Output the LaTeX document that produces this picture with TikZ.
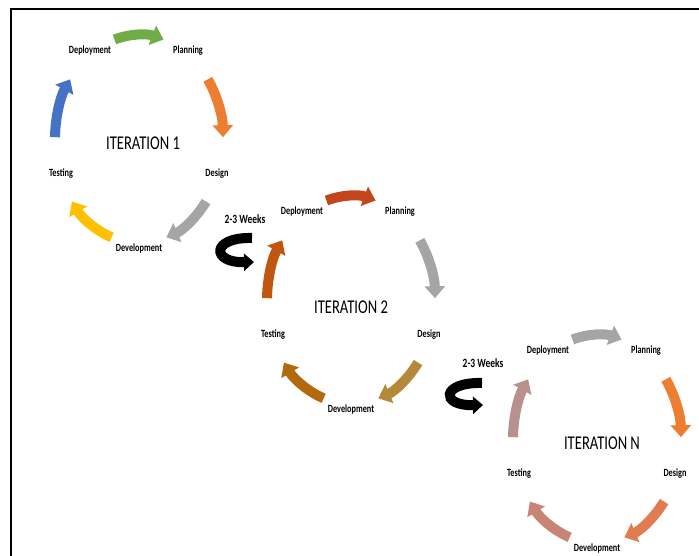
\documentclass[tikz,border=0pt]{standalone}
\usepackage{fontspec}
\setmainfont{Carlito}
\newfontfamily\tallfont[FakeStretch=0.75]{Carlito}
\usetikzlibrary{arrows.meta}
\definecolor{green1}{HTML}{70AD47}
\definecolor{orange1}{HTML}{ED7D31}
\definecolor{grey1}{HTML}{A5A5A5}
\definecolor{gold1}{HTML}{FFC000}
\definecolor{blue1}{HTML}{4472C4}
\definecolor{rust2}{HTML}{C4451C}
\definecolor{ochre2}{HTML}{B5893A}
\definecolor{brown2}{HTML}{B3690E}
\definecolor{burnt2}{HTML}{C0560F}
\definecolor{coralN}{HTML}{E07C50}
\definecolor{clayN}{HTML}{C88474}
\definecolor{roseN}{HTML}{B9918C}
\tikzset{
  stage/.style={font=\tallfont\bfseries\fontsize{11}{12}\selectfont,inner sep=1pt},
  itr/.style={font=\tallfont\fontsize{19.5}{21}\selectfont,inner sep=1pt},
  wks/.style={font=\tallfont\bfseries\fontsize{12.6}{14}\selectfont,inner sep=1pt},
  cyc/.style={line width=10pt,-{Triangle[length=12pt,width=20pt]}},
  uturn/.style={line width=10pt,-{Triangle[length=10pt,width=17pt]}},
}
% one arrow of a cycle: centre, middle angle, colour
\newcommand{\cycarc}[3]{\draw[cyc,draw=#3] (#1) ++({#2+17}:84pt and 104pt)
  arc[start angle={#2+17},end angle={#2-17},x radius=84pt,y radius=104pt];}

\begin{document}
\begin{tikzpicture}[x=1pt,y=1pt]
\useasboundingbox (0,0) rectangle (699,556);
\draw[line width=2.2pt] (11,0) -- (11,547) -- (699,547);

% iteration 1
\begin{scope}[shift={(139,417)}]
\coordinate (c1) at (0,0);
\node[itr] (it1) at (4,-4) {ITERATION 1};
\node[stage] (dep1) at (-49,88) {Deployment};
\node[stage] (pla1) at (49,88) {Planning};
\node[stage] (des1) at (78,-35) {Design};
\node[stage] (dev1) at (0,-110) {Development};
\node[stage] (tes1) at (-78,-35) {Testing};
\cycarc{c1}{90}{green1} \cycarc{c1}{18}{orange1} \cycarc{c1}{-54}{grey1}
\cycarc{c1}{-126}{gold1} \cycarc{c1}{162}{blue1}
\end{scope}

% iteration 2
\begin{scope}[shift={(351,256)}]
\coordinate (c2) at (0,0);
\node[itr] (it2) at (0,-7) {ITERATION 2};
\node[stage] (dep2) at (-49,88) {Deployment};
\node[stage] (pla2) at (49,88) {Planning};
\node[stage] (des2) at (78,-35) {Design};
\node[stage] (dev2) at (0,-110) {Development};
\node[stage] (tes2) at (-78,-35) {Testing};
\cycarc{c2}{90}{rust2} \cycarc{c2}{18}{grey1} \cycarc{c2}{-54}{ochre2}
\cycarc{c2}{-126}{brown2} \cycarc{c2}{162}{burnt2}
\end{scope}

% iteration N
\begin{scope}[shift={(597,117)}]
\coordinate (c3) at (0,0);
\node[itr] (it3) at (5,-4) {ITERATION N};
\node[stage] (dep3) at (-49,88) {Deployment};
\node[stage] (pla3) at (49,88) {Planning};
\node[stage] (des3) at (78,-35) {Design};
\node[stage] (dev3) at (0,-110) {Development};
\node[stage] (tes3) at (-78,-35) {Testing};
\cycarc{c3}{90}{grey1} \cycarc{c3}{18}{orange1} \cycarc{c3}{-54}{coralN}
\cycarc{c3}{-126}{clayN} \cycarc{c3}{162}{roseN}
\end{scope}

% 2-3 weeks between iterations
\node[wks] (wk1) at (245,337) {2-3 Weeks};
\coordinate (u1a) at ([shift={(7,-19)}]wk1.center);
\coordinate (u1b) at ([shift={(9,-43)}]wk1.center);
\draw[uturn] (u1a) .. controls +(-41,1) and +(-43,-1) .. (u1b);
\node[wks] (wk2) at (483,193) {2-3 Weeks};
\coordinate (u2a) at ([shift={(-1,-20)}]wk2.center);
\coordinate (u2b) at ([shift={(0,-42)}]wk2.center);
\draw[uturn] (u2a) .. controls +(-41,1) and +(-43,-1) .. (u2b);
\end{tikzpicture}
\end{document}
